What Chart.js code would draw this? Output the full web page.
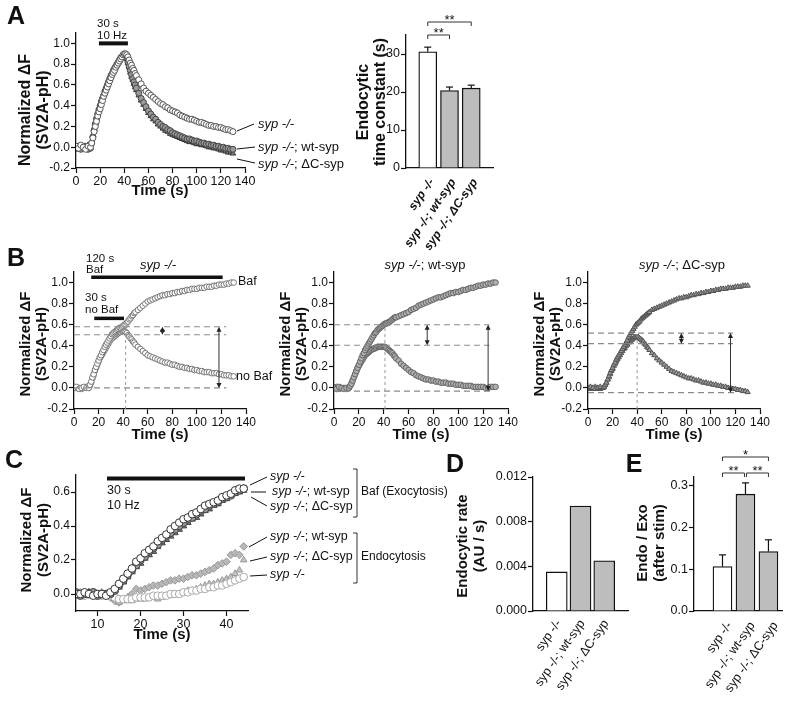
<!DOCTYPE html>
<html>
<head>
<meta charset="utf-8">
<title>SV2A-pH endocytosis</title>
<script src="https://cdn.jsdelivr.net/npm/chart.js@4.4.1/dist/chart.umd.min.js"></script>
<style>
  body { margin: 0; background: #fff; }
  #fig { position: relative; width: 800px; height: 704px; overflow: hidden; background: #fff; }
  #fig canvas { position: absolute; }
</style>
</head>
<body>
<div id="fig"></div>
<script>
// ---- data ----
const t2 = [0,2,4,6,8,10,12,14,16,18,20,22,24,26,28,30,32,34,36,38,40,42,44,46,48,50,52,54,56,58,60,62,64,66,68,70,
  72,74,76,78,80,82,84,86,88,90,92,94,96,98,100,102,104,106,108,110,112,114,116,118,120,122,124,126,128,130]
// extra samples on the steep part (odd seconds)
const tOdd = [13,15,17,19,21,23,25,27,29,31,33,35,37,39,41,43,45,47,49]
const tC = [5,6,7,8,9,10,11,12,13,14,15,16,17,18,19,20,21,22,23,24,25,26,27,28,29,30,31,32,33,34,35,36,37,38,39,40,41,42,43,44]

// A: normalized dF, 30 s 10 Hz stim
const koA = [0.01,-0.01,0.02,0.0,-0.02,0.01, 0.0,0.09,0.2,0.3,0.37,0.45,0.52,0.58,0.64,0.7,
  0.74,0.79,0.83,0.87,0.9,0.89,0.84,0.79,0.74,0.69, 0.65,0.61,0.57,0.54,0.52,0.5,0.48,0.46,0.44,0.42,
  0.41,0.39,0.38,0.36,0.35,0.34,0.33,0.31,0.3,0.29, 0.28,0.27,0.27,0.26,0.25,0.24,0.24,0.23,0.22,0.21,
  0.21,0.2,0.2,0.19,0.19,0.18,0.17,0.17,0.16,0.15]
const koAodd = [0.04,0.15,0.25,0.34,0.41,0.49,0.55,0.61,0.67,0.72,0.77,0.81,0.85,0.89,0.9,0.87,0.81,0.76,0.71]
const wtA = [-0.01,0.01,-0.02,0.0,0.01,-0.02, -0.01,0.1,0.22,0.32,0.4,0.47,0.54,0.6,0.66,0.71,
  0.76,0.8,0.84,0.87,0.89,0.86,0.78,0.7,0.63,0.57, 0.52,0.47,0.43,0.39,0.35,0.32,0.29,0.27,0.24,0.22,
  0.2,0.19,0.17,0.16,0.14,0.13,0.12,0.11,0.1,0.09, 0.08,0.08,0.07,0.06,0.06,0.05,0.04,0.04,0.03,0.03,
  0.02,0.02,0.01,0.01,0.0,0.0,-0.01,-0.01,-0.02,-0.02]
const wtAodd = [0.04,0.16,0.27,0.36,0.44,0.5,0.57,0.63,0.69,0.74,0.78,0.82,0.86,0.88,0.88,0.82,0.74,0.66,0.6]
const dcA = [0.0,-0.02,0.01,-0.01,0.0,0.02, 0.0,0.12,0.25,0.34,0.42,0.49,0.55,0.61,0.66,0.71,
  0.75,0.79,0.83,0.86,0.88,0.85,0.77,0.68,0.61,0.55, 0.5,0.45,0.41,0.37,0.33,0.3,0.27,0.25,0.22,0.2,
  0.18,0.16,0.15,0.13,0.12,0.11,0.1,0.09,0.08,0.07, 0.06,0.05,0.05,0.04,0.03,0.03,0.02,0.02,0.01,0.0,
  0.0,-0.01,-0.01,-0.02,-0.03,-0.03,-0.04,-0.05,-0.05,-0.06]
const dcAodd = [0.05,0.19,0.3,0.38,0.46,0.52,0.58,0.64,0.69,0.73,0.77,0.81,0.85,0.87,0.87,0.81,0.72,0.65,0.58]

// A right: endocytic time constant (s)
const groups = ['syp -/-', 'syp -/-; wt-syp', 'syp -/-; \u0394C-syp']
const barPos = [1, 2, 3]
const tauMean = [30.6, 20.4, 21.0]
const tauErr = [1.2, 0.9, 0.8]

// B: Baf vs no Baf
const bafKO = [0.0,0.01,-0.01,0.0,0.01,0.0, 0.0,0.06,0.13,0.2,0.26,0.31,0.36,0.41,0.45,0.49,
  0.52,0.54,0.56,0.57,0.59,0.6,0.63,0.66,0.69,0.72, 0.74,0.76,0.78,0.8,0.82,0.83,0.84,0.85,0.86,0.87,
  0.88,0.88,0.89,0.89,0.9,0.9,0.91,0.91,0.92,0.92, 0.93,0.93,0.94,0.94,0.94,0.95,0.95,0.95,0.96,0.96,
  0.96,0.97,0.97,0.98,0.98,0.98,0.99,0.99,1.0,1.0]
const bafKOodd = [0.03,0.1,0.17,0.23,0.29,0.34,0.39,0.43,0.47,0.51,0.53,0.55,0.57,0.58,0.6,0.62,0.65,0.68,0.71]
const noBafKO = [0.01,0.0,0.0,-0.01,0.0,0.01, 0.0,0.05,0.12,0.19,0.25,0.3,0.34,0.38,0.42,0.46,
  0.48,0.5,0.52,0.53,0.54,0.53,0.5,0.47,0.44,0.41, 0.39,0.37,0.35,0.33,0.31,0.3,0.29,0.28,0.27,0.26,
  0.25,0.24,0.24,0.23,0.22,0.22,0.21,0.2,0.2,0.19, 0.19,0.18,0.18,0.17,0.17,0.16,0.16,0.15,0.15,0.15,
  0.14,0.14,0.14,0.13,0.13,0.12,0.12,0.12,0.11,0.11]
const noBafKOodd = [0.02,0.09,0.16,0.22,0.28,0.32,0.36,0.4,0.44,0.47,0.49,0.51,0.53,0.54,0.54,0.52,0.49,0.46,0.43]
const bafWT = [0.0,-0.01,0.01,0.0,-0.01,0.0, 0.0,0.04,0.1,0.16,0.22,0.28,0.33,0.38,0.42,0.46,
  0.5,0.53,0.56,0.58,0.6,0.61,0.62,0.64,0.66,0.67, 0.68,0.69,0.7,0.71,0.72,0.74,0.75,0.76,0.78,0.79,
  0.8,0.81,0.82,0.83,0.84,0.85,0.86,0.86,0.87,0.88, 0.89,0.9,0.9,0.91,0.91,0.92,0.93,0.93,0.94,0.95,
  0.95,0.96,0.97,0.97,0.98,0.98,0.99,0.99,1.0,1.0]
const bafWTodd = [0.02,0.07,0.13,0.19,0.25,0.31,0.36,0.4,0.44,0.48,0.52,0.55,0.57,0.59,0.61,0.62,0.63,0.65,0.67]
const noBafWT = [0.0,0.01,-0.01,0.0,0.0,-0.01, 0.0,0.04,0.1,0.16,0.21,0.25,0.29,0.32,0.34,0.36,
  0.37,0.38,0.39,0.39,0.39,0.38,0.36,0.34,0.31,0.28, 0.26,0.23,0.21,0.19,0.17,0.15,0.14,0.12,0.11,0.1,
  0.09,0.08,0.08,0.07,0.07,0.06,0.06,0.05,0.05,0.05, 0.04,0.04,0.04,0.03,0.03,0.03,0.02,0.02,0.02,0.02,
  0.01,0.01,0.01,0.01,0.01,0.0,0.0,0.01,0.01,0.01]
const noBafWTodd = [0.02,0.07,0.13,0.19,0.23,0.27,0.31,0.33,0.35,0.37,0.38,0.39,0.39,0.39,0.39,0.37,0.35,0.33,0.3]
const bafDC = [0.0,0.01,0.0,-0.01,0.0,0.01, 0.0,0.03,0.08,0.14,0.19,0.24,0.29,0.33,0.37,0.41,
  0.45,0.5,0.54,0.58,0.61,0.63,0.66,0.68,0.7,0.72, 0.74,0.75,0.76,0.77,0.78,0.79,0.8,0.81,0.82,0.83,
  0.84,0.85,0.85,0.86,0.86,0.87,0.88,0.88,0.89,0.89, 0.9,0.9,0.91,0.91,0.92,0.92,0.93,0.93,0.94,0.94,
  0.94,0.95,0.95,0.95,0.96,0.96,0.96,0.97,0.97,0.97]
const bafDCodd = [0.01,0.05,0.11,0.17,0.22,0.27,0.31,0.35,0.39,0.43,0.48,0.52,0.56,0.6,0.62,0.65,0.67,0.69,0.71]
const noBafDC = [0.0,-0.01,0.0,0.01,0.0,-0.01, 0.0,0.03,0.08,0.13,0.18,0.23,0.27,0.31,0.35,0.38,
  0.41,0.44,0.46,0.48,0.48,0.47,0.45,0.42,0.39,0.36, 0.33,0.31,0.28,0.26,0.24,0.22,0.2,0.18,0.16,0.15,
  0.14,0.13,0.12,0.11,0.1,0.09,0.09,0.08,0.07,0.07, 0.06,0.05,0.05,0.04,0.04,0.03,0.03,0.02,0.02,0.01,
  0.01,0.0,0.0,-0.01,-0.01,-0.02,-0.02,-0.03,-0.03,-0.04]
const noBafDCodd = [0.01,0.05,0.1,0.16,0.21,0.25,0.29,0.33,0.37,0.4,0.43,0.45,0.47,0.48,0.48,0.46,0.44,0.41,0.38]
// dashed guide levels per B panel: [upper, lower, baseline]
const levelsB1 = [0.58, 0.505, 0.0]
const levelsB2 = [0.6, 0.405, -0.03]
const levelsB3 = [0.52, 0.42, -0.045]

// C: Baf (exocytosis) and endocytosis during stim
const bafKOc = [0.0,0.0,0.01,0.0,-0.01,0.0,0.0,-0.01, 0.01,0.03,0.06,0.09,0.12,0.15,0.19,0.21,0.24,0.26,
  0.28,0.31,0.33,0.35,0.38,0.4,0.42,0.44,0.45,0.47, 0.48,0.5,0.52,0.53,0.54,0.55,0.57,0.58,0.59,0.61, 0.62,0.62]
const bafWTc = [0.01,-0.01,0.0,0.0,0.01,-0.01,0.0,0.0, 0.0,0.02,0.05,0.08,0.11,0.14,0.17,0.2,0.22,0.25,
  0.27,0.29,0.32,0.34,0.36,0.38,0.4,0.42,0.44,0.45, 0.47,0.49,0.5,0.52,0.53,0.54,0.56,0.57,0.58,0.6, 0.61,0.62]
const bafDCc = [-0.01,0.0,0.0,0.01,0.0,0.0,-0.01,0.0, 0.0,0.02,0.04,0.07,0.1,0.13,0.16,0.18,0.21,0.23,
  0.25,0.28,0.3,0.32,0.34,0.36,0.38,0.4,0.42,0.44, 0.45,0.47,0.49,0.5,0.52,0.53,0.55,0.56,0.58,0.59, 0.6,0.61]
const endoWTc = [0.0,0.01,-0.01,0.0,0.0,-0.01,0.01,-0.01, -0.02,-0.04,-0.05,-0.03,-0.02,0.0,0.03,0.02,0.03,0.04,
  0.05,0.05,0.06,0.07,0.08,0.08,0.09,0.09,0.1,0.11, 0.11,0.12,0.13,0.14,0.15,0.17,0.18,0.19,0.23,0.24, 0.23,0.28]
const endoDCc = [0.0,-0.01,0.0,0.01,-0.01,0.0,0.0,-0.01, -0.01,-0.03,-0.05,-0.04,-0.04,-0.04,-0.03,-0.03,-0.03,-0.02,
  -0.02,-0.03,-0.02,-0.01,-0.01,0.0,0.0,0.01,0.02,0.02, 0.03,0.04,0.05,0.06,0.06,0.07,0.08,0.09,0.1,0.12, 0.14,0.2]
const endoKOc = [0.0,0.0,-0.01,0.0,0.01,0.0,-0.01,0.0, -0.01,-0.02,-0.03,-0.03,-0.03,-0.03,-0.02,-0.02,-0.02,-0.02,
  -0.01,-0.01,-0.01,-0.01,0.0,0.0,0.0,0.01,0.01,0.02, 0.02,0.03,0.03,0.04,0.04,0.05,0.05,0.06,0.07,0.08, 0.09,0.1]

// D, E
const rateD = [0.0035, 0.0094, 0.0045]
const ratioE = [0.106, 0.279, 0.142]
const ratioErr = [0.028, 0.027, 0.028]

// tick values
const tickT = [0, 20, 40, 60, 80, 100, 120, 140]
const tickF = [-0.2, 0.0, 0.2, 0.4, 0.6, 0.8, 1.0]
const tickTau = [0, 10, 20, 30]
const tickTC = [10, 20, 30, 40]
const tickFC = [0.0, 0.2, 0.4, 0.6]
const tickD = [0, 0.004, 0.008, 0.012]
const tickE = [0, 0.1, 0.2, 0.3]

// ---- drawing helpers ----
const FONT = '"Liberation Sans", Arial, Helvetica, sans-serif'
Chart.defaults.font.family = FONT
Chart.defaults.color = '#111'
const fig = document.getElementById('fig')

const LBL = {
  ko: [['syp -/-', 1]],
  wt: [['syp -/-', 1], ['; wt-syp', 0]],
  dc: [['syp -/-', 1], ['; \u0394C-syp', 0]]
}

function put(ctx, text, x, y, o = {}) {
  ctx.save()
  ctx.font = `${o.style || 'normal'} ${o.weight || 'normal'} ${o.size || 12}px ${FONT}`
  ctx.fillStyle = o.color || '#111'
  ctx.textAlign = o.align || 'left'
  ctx.textBaseline = o.base || 'middle'
  ctx.translate(x, y)
  if (o.rot) ctx.rotate(o.rot)
  ctx.fillText(text, 0, 0)
  ctx.restore()
}

function runs(ctx, parts, x, y, size, align) {
  ctx.save()
  ctx.textBaseline = 'middle'
  ctx.textAlign = 'left'
  ctx.fillStyle = '#111'
  const f = it => `${it ? 'italic ' : ''}${size}px ${FONT}`
  let w = 0
  parts.forEach(([t, it]) => { ctx.font = f(it); w += ctx.measureText(t).width })
  let cx = align === 'center' ? x - w / 2 : x
  parts.forEach(([t, it]) => { ctx.font = f(it); ctx.fillText(t, cx, y); cx += ctx.measureText(t).width })
  ctx.restore()
}

function seg(ctx, x1, y1, x2, y2, o = {}) {
  ctx.save()
  ctx.strokeStyle = o.color || '#111'
  ctx.lineWidth = o.width || 1
  ctx.setLineDash(o.dash || [])
  ctx.beginPath(); ctx.moveTo(x1, y1); ctx.lineTo(x2, y2); ctx.stroke()
  ctx.restore()
}

function head(ctx, x, y, dir) {
  ctx.save()
  ctx.fillStyle = '#222'
  ctx.beginPath(); ctx.moveTo(x, y); ctx.lineTo(x - 2.5, y - dir * 5); ctx.lineTo(x + 2.5, y - dir * 5)
  ctx.closePath(); ctx.fill()
  ctx.restore()
}

function arrow2(ctx, x, y1, y2) {
  seg(ctx, x, y1 + 2, x, y2 - 2, { color: '#333' })
  head(ctx, x, y1, -1)
  head(ctx, x, y2, 1)
}

function bracket(ctx, x1, x2, y, stars) {
  ctx.save()
  ctx.strokeStyle = '#333'; ctx.lineWidth = 1
  ctx.beginPath(); ctx.moveTo(x1, y + 4); ctx.lineTo(x1, y); ctx.lineTo(x2, y); ctx.lineTo(x2, y + 4); ctx.stroke()
  ctx.restore()
  put(ctx, stars, (x1 + x2) / 2, y + 2, { size: 13, align: 'center', base: 'alphabetic' })
}

function sideBracket(ctx, x, y1, y2) {
  ctx.save()
  ctx.strokeStyle = '#333'; ctx.lineWidth = 1
  ctx.beginPath(); ctx.moveTo(x - 4, y1); ctx.lineTo(x, y1); ctx.lineTo(x, y2); ctx.lineTo(x - 4, y2); ctx.stroke()
  ctx.restore()
}

function errBars(ctx, X, Y, means, errs) {
  means.forEach((m, i) => {
    const x = X(barPos[i])
    seg(ctx, x, Y(m), x, Y(m + errs[i]), { width: 1.2 })
    seg(ctx, x - 3.5, Y(m + errs[i]), x + 3.5, Y(m + errs[i]), { width: 1.2 })
  })
}

function yTitle(ctx, lines, xs, yc, size) {
  lines.forEach((t, i) => put(ctx, t, xs[i], yc, { weight: 'bold', size, align: 'center', rot: -Math.PI / 2 }))
}

function letter(ctx, s, x, y) {
  put(ctx, s, x, y, { weight: 'bold', size: 25, align: 'center' })
}

function pts(xs, ys, st, xs2, ys2) {
  const data = xs.map((x, i) => ({ x, y: ys[i] }))
  if (xs2) xs2.forEach((x, i) => data.push({ x, y: ys2[i] }))
  data.sort((a, b) => a.x - b.x)
  return {
    data,
    showLine: false,
    pointStyle: st.shape,
    pointRadius: st.r,
    pointBackgroundColor: st.fill,
    pointBorderColor: st.line,
    pointBorderWidth: 1
  }
}

function scaleY(s, width) {
  return {
    type: 'linear', position: 'left', min: s.min, max: s.max,
    afterBuildTicks: a => { a.ticks = s.ticks.map(v => ({ value: v })) },
    afterFit: a => { a.width = width },
    ticks: { callback: s.fmt, padding: 1, font: { size: s.size || 12.5 }, color: '#111' },
    grid: { drawOnChartArea: false, color: '#111', tickLength: 5, tickWidth: 1.2 },
    border: { color: '#111', width: 1.3 }
  }
}

function scaleX(s, height) {
  return {
    type: 'linear', position: 'bottom', min: s.min, max: s.max, offset: false,
    afterBuildTicks: a => { a.ticks = s.ticks.map(v => ({ value: v })) },
    afterFit: a => { a.height = height },
    ticks: {
      callback: s.fmt || (v => String(v)), padding: s.pad ?? 1, autoSkip: false,
      minRotation: s.rot || 0, maxRotation: s.rot || 0, labelOffset: s.shift || 0,
      font: s.font || { size: 12.5 }, color: '#111'
    },
    grid: s.bare ? { display: false, offset: false }
      : { drawOnChartArea: false, color: '#111', tickLength: 5, tickWidth: 1.2, offset: false },
    border: { color: '#111', width: 1.3 }
  }
}

function panel(p) {
  const cv = document.createElement('canvas')
  cv.width = p.W; cv.height = p.H
  cv.style.left = p.L + 'px'; cv.style.top = p.T + 'px'
  fig.appendChild(cv)
  const a = p.area
  return new Chart(cv, {
    type: p.type,
    data: { datasets: p.datasets },
    options: {
      responsive: false, animation: false, devicePixelRatio: 1, events: [],
      layout: { padding: { left: 0, bottom: 0, top: a.t - p.T, right: p.L + p.W - a.r } },
      plugins: { legend: { display: false }, tooltip: { enabled: false } },
      scales: { x: scaleX(p.x, p.T + p.H - a.b), y: scaleY(p.y, a.l - p.L) }
    },
    plugins: [{
      id: 'deco',
      afterDraw: c => {
        const ctx = c.ctx
        const X = v => c.scales.x.getPixelForValue(v) + p.L
        const Y = v => c.scales.y.getPixelForValue(v) + p.T
        ctx.save(); ctx.translate(-p.L, -p.T)
        p.deco(ctx, X, Y)
        ctx.restore()
      }
    }]
  })
}

const open = { shape: 'circle', r: 3, fill: '#fff', line: '#555' }
const grayDot = { shape: 'circle', r: 3, fill: '#9a9a9a', line: '#444' }
const tri = { shape: 'triangle', r: 3.2, fill: '#888', line: '#333' }
const f1 = v => v.toFixed(1)

// ---- A left ----
panel({
  L: 0, T: 0, W: 345, H: 200, type: 'scatter',
  area: { l: 76, r: 245, t: 33, b: 168 },
  x: { min: 0, max: 140, ticks: tickT },
  y: { min: -0.2, max: 1.1, ticks: tickF, fmt: f1, size: 12 },
  datasets: [pts(t2, koA, open, tOdd, koAodd), pts(t2, wtA, grayDot, tOdd, wtAodd), pts(t2, dcA, tri, tOdd, dcAodd)],
  deco: (ctx, X, Y) => {
    letter(ctx, 'A', 16, 17)
    yTitle(ctx, ['Normalized \u0394F', '(SV2A-pH)'], [26, 44], 110, 16)
    put(ctx, 'Time (s)', 160, 191, { weight: 'bold', size: 15, align: 'center' })
    seg(ctx, X(19), Y(1.0), X(43), Y(1.0), { width: 4 })
    put(ctx, '30 s', 97, 24, { size: 11.5 })
    put(ctx, '10 Hz', 97, 36, { size: 11.5 })
    seg(ctx, 237, 131, 254, 124); runs(ctx, LBL.ko, 258, 124, 13)
    seg(ctx, 237, 149, 255, 147); runs(ctx, LBL.wt, 258, 147, 13)
    seg(ctx, 237, 159, 255, 163); runs(ctx, LBL.dc, 258, 164, 13)
  }
})

// ---- A right ----
panel({
  L: 335, T: 0, W: 200, H: 262, type: 'bar',
  area: { l: 406, r: 493, t: 35, b: 168 },
  x: { min: 0, max: 4, ticks: barPos, bare: true, rot: 55, pad: 0, shift: 4,
       fmt: (v, i) => groups[i], font: { size: 12, style: 'italic', weight: 'bold' } },
  y: { min: 0, max: 35, ticks: tickTau, fmt: v => String(v) },
  datasets: [{
    data: barPos.map((x, i) => ({ x, y: tauMean[i] })),
    backgroundColor: ['#fff', '#bdbdbd', '#bdbdbd'], borderColor: '#111', borderWidth: 1.3,
    barThickness: 18, borderSkipped: 'start'
  }],
  deco: (ctx, X, Y) => {
    yTitle(ctx, ['Endocytic', 'time constant (s)'], [364, 381], 102, 16)
    errBars(ctx, X, Y, tauMean, tauErr)
    bracket(ctx, X(1), X(2), 35, '**')
    bracket(ctx, X(1), X(3), 22, '**')
  }
})

// ---- B ----
function panelB(L, W, area, sets, lv, o) {
  panel({
    L, T: 245, W, H: 200, type: 'scatter', area,
    x: { min: 0, max: 140, ticks: tickT, font: { size: 12 } },
    y: { min: -0.2, max: 1.1, ticks: tickF, fmt: f1, size: 12 },
    datasets: sets,
    deco: (ctx, X, Y) => {
      yTitle(ctx, ['Normalized \u0394F', '(SV2A-pH)'], [area.l - 48, area.l - 32], 344, 15)
      put(ctx, 'Time (s)', (area.l + area.r) / 2, 435, { weight: 'bold', size: 15, align: 'center' })
      const dash = { color: '#8a8a8a', dash: [6, 4], width: 1.1 }
      seg(ctx, X(0), Y(lv[0]), X(o.hiEnd), Y(lv[0]), dash)
      seg(ctx, X(0), Y(lv[1]), X(o.hiEnd), Y(lv[1]), dash)
      seg(ctx, X(0), Y(lv[2]), X(o.baseEnd), Y(lv[2]), dash)
      seg(ctx, X(o.tv), Y(-0.2), X(o.tv), Y(o.vTop), { color: '#999', dash: [3, 3] })
      arrow2(ctx, X(o.aS), Y(lv[0]), Y(lv[1]))
      arrow2(ctx, X(o.aB), Y(lv[0]), Y(lv[2]))
      runs(ctx, o.title, o.tx, 265, 13, 'center')
      if (o.extra) o.extra(ctx, X, Y)
    }
  })
}

const openB = { shape: 'circle', r: 2.8, fill: '#fff', line: '#777' }
const grayB = { shape: 'circle', r: 2.8, fill: '#b0b0b0', line: '#666' }
const triB = { shape: 'triangle', r: 3, fill: '#999', line: '#555' }

panelB(0, 290, { l: 74, r: 246, t: 272, b: 409 },
  [pts(t2, bafKO, openB, tOdd, bafKOodd), pts(t2, noBafKO, openB, tOdd, noBafKOodd)],
  levelsB1,
  { hiEnd: 124, baseEnd: 124, tv: 42, vTop: 0.55, aS: 72, aB: 118, title: LBL.ko, tx: 158,
    extra: (ctx, X, Y) => {
      letter(ctx, 'B', 16, 259)
      seg(ctx, X(14), Y(1.05), X(121), Y(1.05), { width: 3.5 })
      put(ctx, '120 s', 86, 259, { size: 11.5 }); put(ctx, 'Baf', 86, 270, { size: 11.5 })
      seg(ctx, X(16.5), Y(0.66), X(40.7), Y(0.66), { width: 3.5 })
      put(ctx, '30 s', 85, 298, { size: 11.5 }); put(ctx, 'no Baf', 85, 310, { size: 11.5 })
      put(ctx, 'Baf', 238, 282, { size: 12.5 })
      put(ctx, 'no Baf', 236, 377, { size: 12.5 })
    } })

panelB(270, 260, { l: 334, r: 508, t: 272, b: 409 },
  [pts(t2, bafWT, grayB, tOdd, bafWTodd), pts(t2, noBafWT, grayB, tOdd, noBafWTodd)],
  levelsB2,
  { hiEnd: 125, baseEnd: 128, tv: 41, vTop: 0.6, aS: 75, aB: 124, title: LBL.wt, tx: 425 })

panelB(525, 275, { l: 588, r: 760, t: 272, b: 409 },
  [pts(t2, bafDC, triB, tOdd, bafDCodd), pts(t2, noBafDC, triB, tOdd, noBafDCodd)],
  levelsB3,
  { hiEnd: 118, baseEnd: 120, tv: 40, vTop: 0.5, aS: 76, aB: 116, title: LBL.dc, tx: 682 })

// ---- C ----
panel({
  L: 0, T: 450, W: 460, H: 200, type: 'scatter',
  area: { l: 76, r: 248, t: 475, b: 611 },
  x: { min: 5, max: 45, ticks: tickTC },
  y: { min: -0.1, max: 0.7, ticks: tickFC, fmt: f1, size: 12 },
  datasets: [
    pts(tC, bafKOc, { shape: 'circle', r: 3.8, fill: '#fff', line: '#333' }),
    pts(tC, bafWTc, { shape: 'circle', r: 3.8, fill: '#9a9a9a', line: '#444' }),
    pts(tC, bafDCc, { shape: 'triangle', r: 3.8, fill: '#808080', line: '#444' }),
    pts(tC, endoKOc, { shape: 'circle', r: 3.8, fill: '#fff', line: '#aaa' }),
    pts(tC, endoDCc, { shape: 'triangle', r: 3.8, fill: '#c4c4c4', line: '#999' }),
    pts(tC, endoWTc, { shape: 'rectRot', r: 3.8, fill: '#b8b8b8', line: '#999' })
  ],
  deco: (ctx, X, Y) => {
    letter(ctx, 'C', 14, 461)
    yTitle(ctx, ['Normalized \u0394F', '(SV2A-pH)'], [27, 44], 540, 15)
    put(ctx, 'Time (s)', 162, 635, { weight: 'bold', size: 15, align: 'center' })
    seg(ctx, X(12.2), Y(0.68), X(44.3), Y(0.68), { width: 4 })
    put(ctx, '30 s', 107, 491, { size: 12.5 })
    put(ctx, '10 Hz', 107, 506, { size: 12.5 })
    seg(ctx, 250, 485, 267, 477); runs(ctx, LBL.ko, 270, 477, 12.5)
    seg(ctx, 251, 492, 266, 492); runs(ctx, LBL.wt, 272, 492, 12.5)
    seg(ctx, 251, 497, 267, 506); runs(ctx, LBL.dc, 270, 507, 12.5)
    sideBracket(ctx, 357, 469, 517)
    put(ctx, 'Baf (Exocytosis)', 361, 492, { size: 12 })
    seg(ctx, 249, 547, 267, 537); runs(ctx, LBL.wt, 270, 537, 12.5)
    seg(ctx, 250, 561, 267, 557); runs(ctx, LBL.dc, 270, 557, 12.5)
    seg(ctx, 250, 576, 267, 575); runs(ctx, LBL.ko, 270, 575, 12.5)
    sideBracket(ctx, 357, 533, 583)
    put(ctx, 'Endocytosis', 361, 557, { size: 12 })
  }
})

// ---- D ----
panel({
  L: 440, T: 450, W: 195, H: 254, type: 'bar',
  area: { l: 533, r: 628, t: 477, b: 611 },
  x: { min: 0, max: 4, ticks: barPos, bare: true, rot: 55, pad: -2, shift: 2,
       fmt: (v, i) => groups[i], font: { size: 12.5 } },
  y: { min: 0, max: 0.012, ticks: tickD, fmt: v => v.toFixed(3) },
  datasets: [{
    data: barPos.map((x, i) => ({ x, y: rateD[i] })),
    backgroundColor: ['#fff', '#bdbdbd', '#bdbdbd'], borderColor: '#111', borderWidth: 1.3,
    barThickness: 21, borderSkipped: 'start'
  }],
  deco: (ctx, X, Y) => {
    letter(ctx, 'D', 455, 465)
    yTitle(ctx, ['Endocytic rate', '(AU / s)'], [463, 480], 546, 15)
  }
})

// ---- E ----
panel({
  L: 622, T: 450, W: 178, H: 254, type: 'bar',
  area: { l: 694, r: 782, t: 477, b: 611 },
  x: { min: -0.24, max: 3.59, ticks: barPos, bare: true, rot: 55, pad: 0, shift: 7,
       fmt: (v, i) => groups[i], font: { size: 12.5 } },
  y: { min: 0, max: 0.32, ticks: tickE, fmt: f1 },
  datasets: [{
    data: barPos.map((x, i) => ({ x, y: ratioE[i] })),
    backgroundColor: ['#fff', '#bdbdbd', '#bdbdbd'], borderColor: '#111', borderWidth: 1.3,
    barThickness: 19, borderSkipped: 'start'
  }],
  deco: (ctx, X, Y) => {
    letter(ctx, 'E', 634, 465)
    yTitle(ctx, ['Endo / Exo', '(after stim)'], [643, 660], 543, 15)
    errBars(ctx, X, Y, ratioE, ratioErr)
    bracket(ctx, X(1), X(3), 457, '*')
    bracket(ctx, X(1), X(2) - 1, 473, '**')
    bracket(ctx, X(2) + 1, X(3), 473, '**')
  }
})
</script>
</body>
</html>
